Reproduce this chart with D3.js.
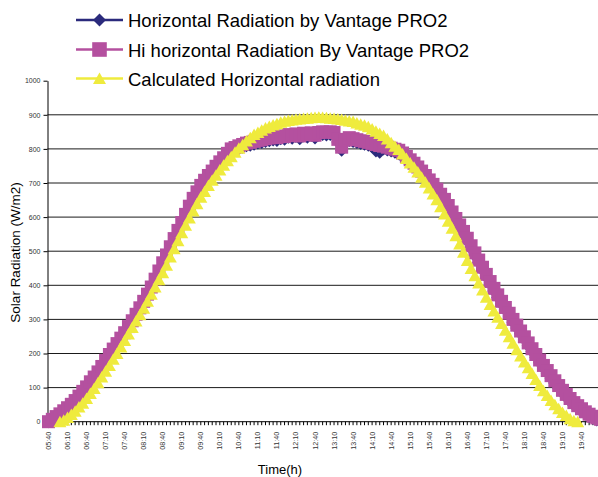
<!DOCTYPE html>
<html><head><meta charset="utf-8">
<script src="https://cdn.jsdelivr.net/npm/d3@7"></script>
<style>
body{margin:0;background:#fff}
svg{display:block;font-family:"Liberation Sans",Arial,sans-serif}
</style>
</head><body>
<svg id="chart" width="598" height="477"></svg>
<script>
// ---- data ----
const times = [
"05:40","05:46","05:52","05:58",
"06:04","06:10","06:16","06:22","06:28","06:34","06:40","06:46","06:52","06:58",
"07:04","07:10","07:16","07:22","07:28","07:34","07:40","07:46","07:52","07:58",
"08:04","08:10","08:16","08:22","08:28","08:34","08:40","08:46","08:52","08:58",
"09:04","09:10","09:16","09:22","09:28","09:34","09:40","09:46","09:52","09:58",
"10:04","10:10","10:16","10:22","10:28","10:34","10:40","10:46","10:52","10:58",
"11:04","11:10","11:16","11:22","11:28","11:34","11:40","11:46","11:52","11:58",
"12:04","12:10","12:16","12:22","12:28","12:34","12:40","12:46","12:52","12:58",
"13:04","13:10","13:16","13:22","13:28","13:34","13:40","13:46","13:52","13:58",
"14:04","14:10","14:16","14:22","14:28","14:34","14:40","14:46","14:52","14:58",
"15:04","15:10","15:16","15:22","15:28","15:34","15:40","15:46","15:52","15:58",
"16:04","16:10","16:16","16:22","16:28","16:34","16:40","16:46","16:52","16:58",
"17:04","17:10","17:16","17:22","17:28","17:34","17:40","17:46","17:52","17:58",
"18:04","18:10","18:16","18:22","18:28","18:34","18:40","18:46","18:52","18:58",
"19:04","19:10","19:16","19:22","19:28","19:34","19:40","19:46","19:52","19:58",
"20:04","20:10"];
const tickLabels = ["05:40","06:10","06:40","07:10","07:40","08:10","08:40","09:10","09:40","10:10","10:40","11:10","11:40","12:10","12:40","13:10","13:40","14:10","14:40","15:10","15:40","16:10","16:40","17:10","17:40","18:10","18:40","19:10","19:40"];
const yTickValues = [0,100,200,300,400,500,600,700,800,900,1000];
const seriesNames = ["Horizontal Radiation by Vantage PRO2","Hi horizontal Radiation By Vantage PRO2","Calculated Horizontal radiation"];
const radiationAvg = [
  0,4,12,19,24,33,43,54,67,81,
  94,109,123,138,154,172,189,205,221,237,
  253,271,288,307,326,345,366,387,410,434,
  458,481,505,529,553,576,600,624,647,666,
  685,700,714,727,741,754,766,779,792,796,
  801,805,809,811,814,817,819,822,824,826,
  825,830,828,834,831,836,830,838,834,839,
  832,840,842,841,842,840,820,796,818,825,
  822,819,816,814,811,806,794,790,800,797,
  794,790,786,776,766,758,749,739,727,714,
  701,688,674,659,644,626,607,588,569,550,
  530,508,487,466,445,424,403,383,364,345,
  327,310,292,275,258,241,223,206,189,173,
  157,142,127,112,98,84,72,60,48,39,
  30,22,15,10,5,2];
const radiationHi = [
  0,7,15,23,32,41,51,62,75,89,
  102,117,131,146,162,180,197,213,229,245,
  261,279,296,315,334,353,374,395,418,442,
  466,489,513,537,561,584,608,632,655,674,
  693,708,722,735,749,762,774,787,800,804,
  809,813,817,819,822,825,827,830,832,834,
  833,838,836,842,839,844,838,846,842,847,
  840,848,850,849,850,848,828,805,826,833,
  830,827,824,822,819,816,813,810,808,805,
  802,799,796,788,778,768,758,747,735,722,
  709,696,682,667,652,634,615,596,577,558,
  538,516,495,474,453,432,411,391,372,353,
  335,318,300,283,266,249,231,214,197,181,
  165,150,135,120,106,92,80,68,56,47,
  38,29,22,16,11,7];
const radiationCalc = [
  null,null,null,0,4,12,21,31,43,54,
  68,83,97,114,131,148,165,183,200,219,
  238,257,276,295,314,333,353,374,395,416,
  437,459,483,507,531,554,576,597,618,639,
  658,675,693,708,723,738,752,765,777,790,
  802,812,823,833,842,848,855,861,866,870,
  874,878,881,883,885,887,888,889,890,891,
  892,893,892,891,890,889,888,886,884,882,
  880,876,872,869,865,858,852,845,839,829,
  818,808,798,785,772,759,746,732,717,702,
  685,668,651,630,609,588,567,545,521,497,
  473,449,428,407,386,365,344,325,306,288,
  268,249,230,211,193,175,158,141,124,106,
  91,77,62,50,38,27,18,9,3,0,
  null,null,null,null,null,null];

// ---- styles ----
const colors = ["#2B2A7C","#B4509F","#EFEB3D"];
const shapes = ["diamond","square","triangle"];

const svg = d3.select("#chart");
svg.append("rect").attr("width",598).attr("height",477).attr("fill","#fff");

const toMin = s => { const p = s.split(":").map(Number); return p[0]*60 + p[1]; };
const t0 = toMin(times[0]);
const x = d3.scaleLinear().domain([0, toMin("19:40") - t0]).range([48.5, 581.5]);
const y = d3.scaleLinear().domain([0, 1000]).range([421.7, 80.7]);
const xAt = i => x(toMin(times[i]) - t0);

// gridlines
svg.append("g").selectAll("line")
  .data(yTickValues.filter(v => v > 0 && v < 1000))
  .join("line")
  .attr("x1", 47.5).attr("x2", 598)
  .attr("y1", d => y(d)).attr("y2", d => y(d))
  .attr("stroke", "#1a1a1a").attr("stroke-width", 1);

// y axis
const yAxis = svg.append("g").attr("transform", "translate(47.5,0)")
  .call(d3.axisLeft(y).tickValues(yTickValues).tickSize(4).tickSizeOuter(0).tickPadding(3).tickFormat(d3.format("d")));
yAxis.select(".domain").attr("stroke", "#000");
yAxis.selectAll(".tick line").attr("stroke", "#000");
yAxis.selectAll("text").attr("font-size", 7).attr("fill", "#333").attr("font-family", "Liberation Sans, Arial, sans-serif");

// x axis line, ticks (one per category) and labels
svg.append("line").attr("x1", 47.5).attr("x2", 598).attr("y1", y(0)).attr("y2", y(0))
  .attr("stroke", "#000").attr("stroke-width", 1);
svg.append("g").selectAll("line").data(times).join("line")
  .attr("x1", (d, i) => xAt(i)).attr("x2", (d, i) => xAt(i))
  .attr("y1", y(0)).attr("y2", y(0) + 3.5)
  .attr("stroke", "#000").attr("stroke-width", 1);
svg.append("g").selectAll("text").data(tickLabels).join("text")
  .attr("transform", d => `translate(${x(toMin(d) - t0)},431.7) rotate(-90)`)
  .attr("text-anchor", "end").attr("dy", "0.35em")
  .attr("font-size", 7.2).attr("fill", "#333")
  .text(d => d);

// axis titles
svg.append("text").attr("transform", "translate(15.5,252.5) rotate(-90)")
  .attr("text-anchor", "middle").attr("dy", "0.35em")
  .attr("font-size", 13.5).attr("fill", "#000").text("Solar Radiation (W/m2)");
svg.append("text").attr("x", 280).attr("y", 474)
  .attr("text-anchor", "middle").attr("font-size", 13).attr("fill", "#000").text("Time(h)");

// marker paths
function markerPath(shape) {
  if (shape === "square") return "M-6.5,-6.5H6.5V6.5H-6.5Z";
  if (shape === "diamond") return "M0,-6.5L6.5,0L0,6.5L-6.5,0Z";
  return "M0,-6L6.5,5.5L-6.5,5.5Z";
}

// series
const allSeries = [radiationAvg, radiationHi, radiationCalc];
allSeries.forEach((vals, k) => {
  const g = svg.append("g");
  const line = d3.line().defined(d => d != null).x((d, i) => xAt(i)).y(d => y(d));
  g.append("path").datum(vals).attr("d", line)
    .attr("fill", "none").attr("stroke", colors[k]).attr("stroke-width", 2.5);
  g.selectAll("path.m").data(vals.map((v, i) => ({v, i})).filter(d => d.v != null))
    .join("path").attr("class", "m")
    .attr("transform", d => `translate(${xAt(d.i)},${y(d.v)})`)
    .attr("d", markerPath(shapes[k]))
    .attr("fill", colors[k]);
});

// legend
const rowY = [20, 49.5, 78.5];
const lg = svg.append("g");
seriesNames.forEach((name, k) => {
  lg.append("line").attr("x1", 76).attr("x2", 123).attr("y1", rowY[k]).attr("y2", rowY[k])
    .attr("stroke", colors[k]).attr("stroke-width", 2.5);
  lg.append("path").attr("transform", `translate(99.5,${rowY[k]})`)
    .attr("d", k === 1 ? "M-7.3,-7.3H7.3V7.3H-7.3Z" : markerPath(shapes[k])).attr("fill", colors[k]);
  lg.append("text").attr("x", 128).attr("y", rowY[k] + 7.3)
    .attr("font-size", 18.5).attr("fill", "#000").text(name);
});
</script>
</body></html>
